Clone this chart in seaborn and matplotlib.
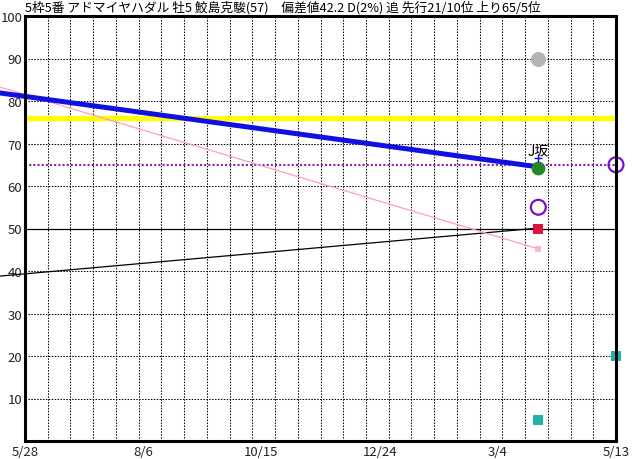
import matplotlib
matplotlib.use("Agg")
import matplotlib.pyplot as plt
import seaborn as sns
import numpy as np
import pandas as pd

# ---- data ----
title = "5枠5番 アドマイヤハダル 牡5 鮫島克駿(57)　偏差値42.2 D(2%) 追 先行21/10位 上り65/5位"
tick_days = [0, 70, 140, 210, 280, 350]
tick_labels = ["5/28", "8/6", "10/15", "12/24", "3/4", "5/13"]
y_ticks = [10, 20, 30, 40, 50, 60, 70, 80, 90, 100]

race_days = [-15, 304]          # previous race (off-chart) and last race
blue_vals = [81.9, 64.5]
pink_vals = [83.3, 45.2]
black_vals = [38.8, 50.1]

last_day = 304
gray_val = 90
green_val = 64.2
purple_last = 55
red_val = 50
pink_last = 45.2
teal_last = 5

next_day = 350
purple_next = 65
teal_next = 20

yellow_level = 76
purple_level = 65
black_level = 50
label_text = "J坂"

# ---- figure ----
sns.set_style("white")
plt.rcParams['font.family'] = ['Noto Sans CJK JP', 'DejaVu Sans']

W, H = 632, 460
fig = plt.figure(figsize=(W / 100, H / 100), dpi=100)
ax = fig.add_axes([25 / W, 18 / H, 591 / W, 425 / H])
ax.set_xlim(0, 350)
ax.set_ylim(0, 100)

# grid
for gx in np.linspace(0, 350, 27)[1:-1]:
    ax.axvline(gx, color="black", lw=0.75, ls=(0, (1.4, 1.4)), zorder=1)
for gy in y_ticks[:-1]:
    if gy != black_level:
        ax.axhline(gy, color="black", lw=0.75, ls=(0, (1.4, 1.4)), zorder=1)

ax.axhline(black_level, color="black", lw=0.9, zorder=2)
ax.axhline(yellow_level, color="#ffff00", lw=3.8, zorder=2)
ax.axhline(purple_level, color="#8a1fa8", lw=1.5, ls=(0, (1, 1)), zorder=2)

df = pd.DataFrame({"day": race_days, "blue": blue_vals, "pink": pink_vals, "black": black_vals})
n0 = len(ax.lines)
sns.lineplot(data=df, x="day", y="black", color="black", lw=0.9, ax=ax, zorder=3)
sns.lineplot(data=df, x="day", y="pink", color="#ff9cc4", lw=0.9, ax=ax, zorder=3)
sns.lineplot(data=df, x="day", y="blue", color="#1010e0", lw=3.6, ax=ax, zorder=4)
for ln in ax.lines[n0:]:
    ln.set_clip_on(False)

def pt(x, y, **kw):
    sc = sns.scatterplot(x=[x], y=[y], ax=ax, legend=False, **kw)
    return sc

pt(last_day, gray_val, s=118, color="#b4b4b4", linewidth=0, zorder=5)
pt(last_day, green_val, s=100, color="#238823", linewidth=0, zorder=5)
pt(last_day, purple_last, s=115, facecolor="none", edgecolor="#7a10c8", linewidth=1.6, zorder=5)
pt(last_day, red_val, s=52, marker="s", color="#dc143c", linewidth=0, zorder=5)
pt(last_day, pink_last, s=18, marker="s", color="#ffb6c8", linewidth=0, zorder=5)
pt(last_day, teal_last, s=44, marker="s", color="#20b2aa", linewidth=0, zorder=5)
pt(last_day, 66.6, s=30, marker="+", color="#1010e0", linewidth=1.0, zorder=6)
ax.text(last_day, 66.8, label_text, ha="center", va="bottom", fontsize=10, color="black", zorder=6)

n1 = len(ax.collections)
pt(next_day, purple_next, s=115, facecolor="none", edgecolor="#7a10c8", linewidth=1.6, zorder=6)
pt(next_day, teal_next, s=44, marker="s", color="#20b2aa", linewidth=0, zorder=6)
for c in ax.collections[n1:]:
    c.set_clip_on(False)

ax.set_xticks(tick_days)
ax.set_xticklabels(tick_labels)
ax.set_yticks(y_ticks)
ax.set_xlabel("")
ax.set_ylabel("")
ax.tick_params(length=0, labelsize=9.5, colors="#222222", pad=2)
ax.tick_params(axis="x", pad=3)
for s in ax.spines.values():
    s.set_visible(True)
    s.set_color("black")
    s.set_linewidth(2.2)
    s.set_zorder(7)

fig.text(25 / W, 1 - 1 / H, title, ha="left", va="top", fontsize=9.2, color="black")

fig.savefig("out.png", dpi=100)
